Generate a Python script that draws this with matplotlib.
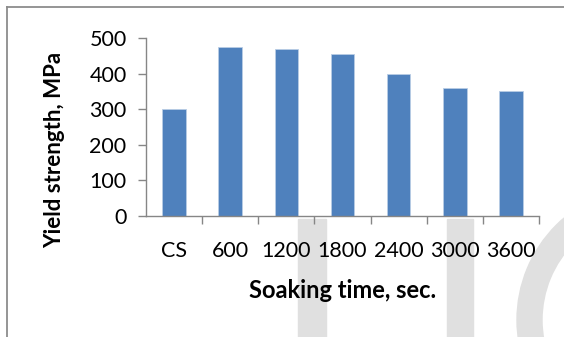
import matplotlib.pyplot as plt
from matplotlib.patches import Rectangle, Wedge
from matplotlib.lines import Line2D
import numpy as np

categorias = ["CS", "600", "1200", "1800", "2400", "3000", "3600"]
resistencia = [300, 475, 470, 455, 400, 360, 350]
ticks_y = [0, 100, 200, 300, 400, 500]

plt.rcParams["font.family"] = ["Lato", "DejaVu Sans"]

W, H = 564, 337
fig = plt.figure(figsize=(W / 100, H / 100), dpi=100)
ax = fig.add_axes([146 / W, 1 - 216 / H, 393 / W, 178 / H])
ax.set_facecolor("none")

x = np.arange(len(categorias))
ax.bar(x, resistencia, width=0.42, color="#4F81BD", edgecolor="#B9CDE5", linewidth=0.6)

ax.set_xlim(-0.5, len(categorias) - 0.5)
ax.set_ylim(0, 500)
ax.set_yticks(ticks_y)
ax.tick_params(axis="y", length=6, width=1, color="#868686", pad=8, labelsize=15.5)

# etiquetas en el centro, marcas en los bordes de cada categoría
ax.set_xticks(x)
ax.set_xticklabels(categorias)
ax.tick_params(axis="x", which="major", length=0, pad=18, labelsize=15.5)
ax.set_xticks(np.arange(0, len(categorias)) + 0.5, minor=True)
ax.tick_params(axis="x", which="minor", length=6, width=1, color="#868686")

for lado in ["top", "right"]:
    ax.spines[lado].set_visible(False)
for lado in ["left", "bottom"]:
    ax.spines[lado].set_color("#868686")
    ax.spines[lado].set_linewidth(1)

fig.text(343 / W, 1 - 290 / H, "Soaking time, sec.", ha="center", va="center",
         fontsize=17, fontweight="bold")
fig.text(55 / W, 1 - 150 / H, "Yield strength, MPa", ha="center", va="center",
         rotation=90, fontsize=16, fontweight="bold")

# marco del gráfico
fig.add_artist(Line2D([7 / W, 1], [1 - 7 / H, 1 - 7 / H], color="#8c8c8c", lw=1.3))
fig.add_artist(Line2D([7 / W, 7 / W], [0, 1 - 7 / H], color="#8c8c8c", lw=1.3))

# marca de agua gris
gris = "#e0e0e0"
fig.add_artist(Rectangle((298 / W, 0), 28 / W, 118 / H, transform=fig.transFigure,
                         color=gris, zorder=-1))
fig.add_artist(Rectangle((447 / W, 0), 26 / W, 118 / H, transform=fig.transFigure,
                         color=gris, zorder=-1))
fig.add_artist(Wedge((6.51, 0.17), 1.34, 0, 360, width=0.25,
                     transform=fig.dpi_scale_trans, color=gris, zorder=-1))

fig.savefig("out.png", dpi=100)
